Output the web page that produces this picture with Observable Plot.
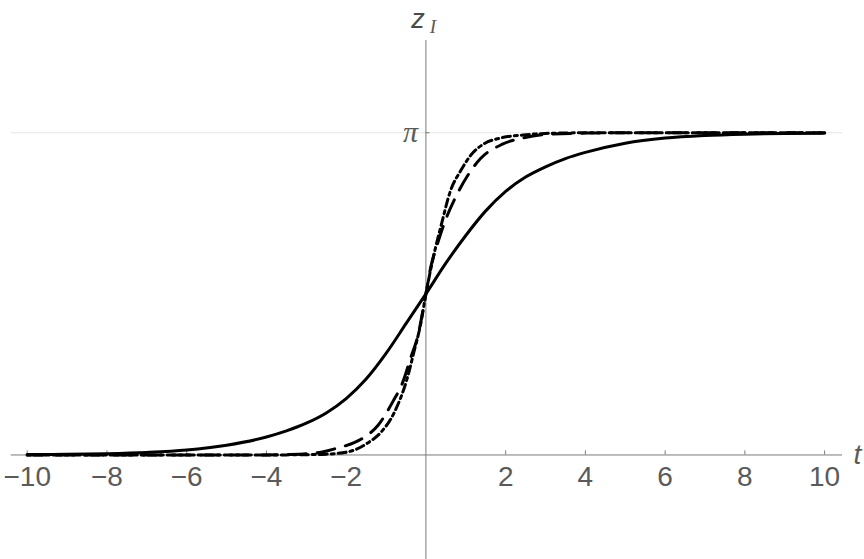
<!DOCTYPE html>
<html>
<head>
<meta charset="utf-8">
<script src="https://cdn.jsdelivr.net/npm/d3@7"></script>
<script src="https://cdn.jsdelivr.net/npm/@observablehq/plot@0.6"></script>
<style>
  html, body { margin: 0; padding: 0; background: #fff; }
  #chart svg { display: block; }
</style>
</head>
<body>
<div id="chart"></div>
<script>
// Solid curve
const solidT = [-10, -9, -8, -7, -6, -5, -4, -3.5, -3, -2.5, -2, -1.5, -1, -0.5, 0, 0.5, 1, 1.5, 2, 2.5, 3, 3.5, 4, 5, 6, 7, 8, 9, 10];
const solidZ = [0.004, 0.007, 0.013, 0.025, 0.048, 0.095, 0.175, 0.235, 0.31, 0.41, 0.55, 0.74, 0.99, 1.28, 1.571, 1.87, 2.14, 2.38, 2.57, 2.71, 2.81, 2.89, 2.95, 3.04, 3.09, 3.115, 3.128, 3.135, 3.138];

// Dashed curve
const dashedT = [-10, -6, -4, -3.5, -3, -2.6, -2.2, -1.8, -1.58, -1.2, -0.83, -0.58, -0.38, -0.21, 0, 0.12, 0.29, 0.49, 0.74, 1.04, 1.37, 1.92, 2.42, 3, 4, 5, 10];
const dashedZ = [0, 0, 0.001, 0.004, 0.012, 0.03, 0.07, 0.12, 0.165, 0.29, 0.52, 0.71, 0.95, 1.15, 1.571, 1.83, 2.06, 2.29, 2.51, 2.72, 2.89, 3.03, 3.09, 3.125, 3.138, 3.141, 3.1416];

// Dot-dashed curve
const dotT = [-10, -6, -3.5, -3, -2.5, -1.96, -1.46, -1.13, -0.8, -0.46, -0.31, -0.13, 0, 0.24, 0.37, 0.62, 0.87, 1.12, 1.44, 1.87, 2.44, 3, 4, 10];
const dotZ = [0, 0, 0.001, 0.003, 0.008, 0.03, 0.117, 0.22, 0.41, 0.76, 0.99, 1.28, 1.571, 2.02, 2.22, 2.58, 2.77, 2.92, 3.03, 3.09, 3.12, 3.135, 3.141, 3.1416];

// Tick labels
const xTicks = [-10, -8, -6, -4, -2, 2, 4, 6, 8, 10];
const yTicks = [Math.PI];
const yTickLabels = ["π"];

const toRows = (ts, zs) => ts.map((t, i) => ({t, z: zs[i]}));
const solid = toRows(solidT, solidZ);
const dashed = toRows(dashedT, dashedZ);
const dotted = toRows(dotT, dotZ);

const axisColor = "#7a7a7a";
const textColor = "#5a5a5a";
const fmt = d => d < 0 ? "\u2212" + (-d) : String(d);

const chart = Plot.plot({
  width: 864,
  height: 559,
  margin: 0,
  x: {domain: [-10.67, 11.0], range: [0, 864], axis: null},
  y: {domain: [-1.019, 4.431], range: [559, 0], axis: null},
  style: {background: "#fff", fontFamily: "Liberation Sans, Arial, sans-serif"},
  marks: [
    Plot.ruleY(yTicks, {x1: -10.4, x2: 10.45, stroke: "#e6e6e6", strokeWidth: 1}),
    Plot.ruleY([0], {x1: -10.4, x2: 10.45, stroke: axisColor, strokeWidth: 1}),
    Plot.ruleX([0], {y1: -1.02, y2: 4.04, stroke: axisColor, strokeWidth: 1}),
    Plot.ruleX(xTicks, {y1: 0, y2: 0.04, stroke: axisColor, strokeWidth: 1}),
    Plot.ruleY(yTicks, {x1: 0, x2: 0.1, stroke: axisColor, strokeWidth: 1}),
    Plot.line(solid, {x: "t", y: "z", stroke: "black", strokeWidth: 3, curve: "monotone-x"}),
    Plot.line(dashed, {x: "t", y: "z", stroke: "black", strokeWidth: 3, curve: "monotone-x", strokeDasharray: "18,11"}),
    Plot.line(dotted, {x: "t", y: "z", stroke: "black", strokeWidth: 3, curve: "monotone-x", strokeDasharray: "3,4,8,4"}),
    Plot.text(xTicks, {x: d => d, y: () => 0, text: fmt, dy: 22, fontSize: 28, fill: textColor, textAnchor: "middle", lineAnchor: "middle"}),
    Plot.text(yTicks, {x: () => 0, y: d => d, text: (d, i) => yTickLabels[i], dx: -8, dy: 0, fontSize: 30, fontStyle: "italic", fontFamily: "Liberation Serif, serif", fill: textColor, textAnchor: "end", lineAnchor: "middle"}),
    Plot.text(["z"], {x: () => 0, frameAnchor: "top", text: d => d, dx: -8, dy: 19, fontSize: 27, fontStyle: "italic", fill: "#4a4a4a", textAnchor: "middle", lineAnchor: "middle"}),
    Plot.text(["I"], {x: () => 0, frameAnchor: "top", text: d => d, dx: 7, dy: 26, fontSize: 19, fontStyle: "italic", fontFamily: "Liberation Serif, serif", fill: textColor, textAnchor: "middle", lineAnchor: "middle"}),
    Plot.text(["t"], {y: () => 0, frameAnchor: "right", text: d => d, dx: -7, dy: 0, fontSize: 28, fontStyle: "italic", fill: textColor, textAnchor: "middle", lineAnchor: "middle"})
  ]
});
document.getElementById("chart").appendChild(chart);
</script>
</body>
</html>
